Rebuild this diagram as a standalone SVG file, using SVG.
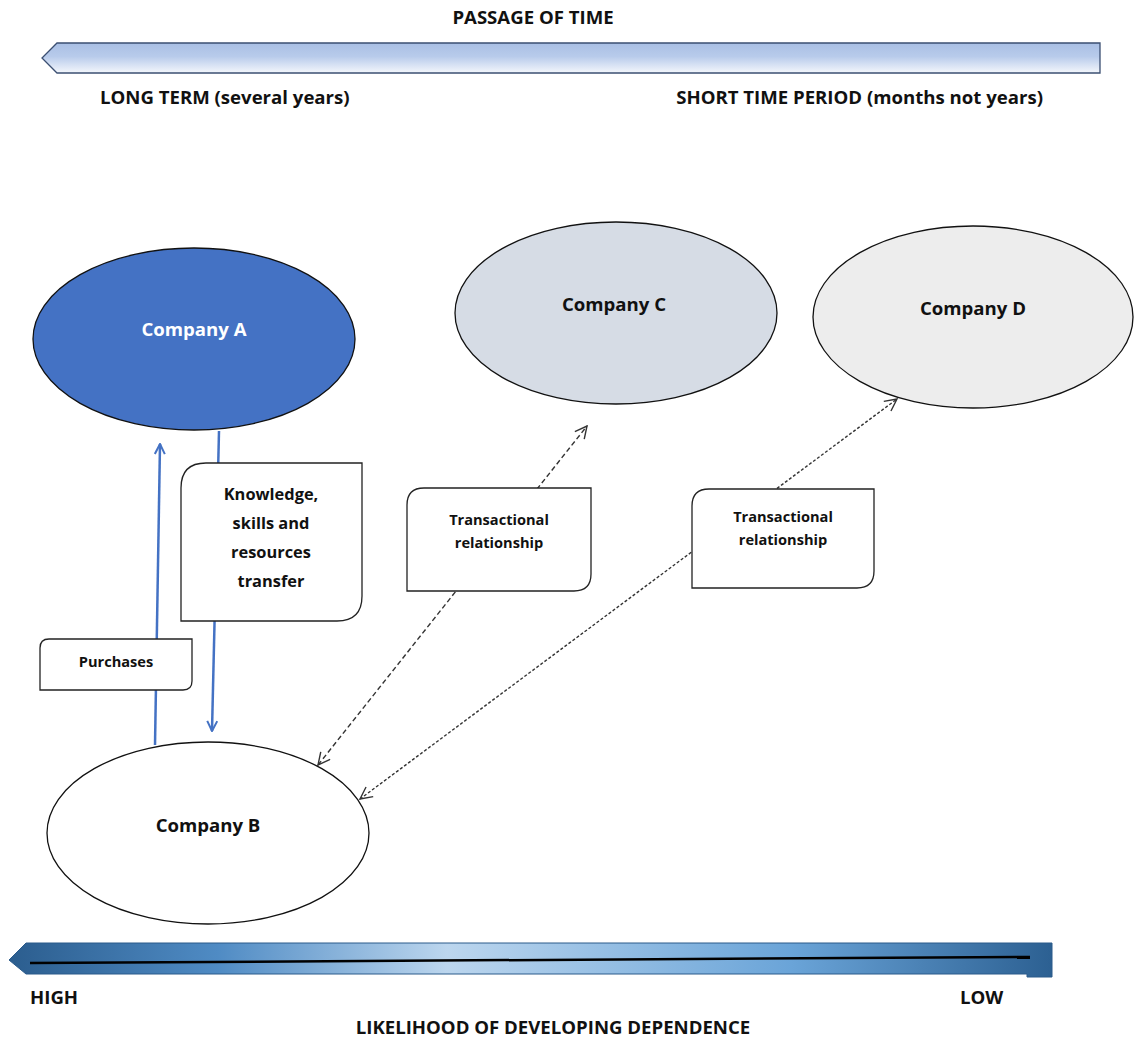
<svg xmlns="http://www.w3.org/2000/svg" width="1134" height="1041" viewBox="0 0 1134 1041">
  <defs>
    <linearGradient id="timeFill" x1="0" y1="0" x2="0" y2="1">
      <stop offset="0" stop-color="#a9bfe4"/>
      <stop offset="0.45" stop-color="#b8cbeb"/>
      <stop offset="1" stop-color="#f4f7fc"/>
    </linearGradient>
    <linearGradient id="depFill" x1="0" y1="0" x2="1" y2="0">
      <stop offset="0" stop-color="#2b5d8e"/>
      <stop offset="0.2" stop-color="#4f8bc4"/>
      <stop offset="0.42" stop-color="#bcd6ee"/>
      <stop offset="0.75" stop-color="#6aa4d8"/>
      <stop offset="1" stop-color="#2c6092"/>
    </linearGradient>
    <marker id="blueHead" viewBox="0 0 12 12" refX="11" refY="6" markerWidth="12" markerHeight="12" markerUnits="userSpaceOnUse" orient="auto">
      <path d="M1,1 L11,6 L1,11" fill="none" stroke="#4472c4" stroke-width="2"/>
    </marker>
    <marker id="openHead" viewBox="0 0 14 14" refX="13" refY="7" markerWidth="14" markerHeight="14" markerUnits="userSpaceOnUse" orient="auto-start-reverse">
      <path d="M1,1 L13,7 L1,13" fill="none" stroke="#333" stroke-width="1.4"/>
    </marker>
  </defs>
  <style>
    text { font-family: "Open Sans", "Liberation Sans", sans-serif; font-weight: bold; fill: #111; }
    .hdr { font-size: 18.6px; }
    .node-label { font-size: 18.6px; text-anchor: middle; }
    .node { stroke: #111; stroke-width: 1.3; }
    .box { fill: #fff; stroke: #222; stroke-width: 1.3; }
    .lbl { font-size: 16.4px; text-anchor: middle; }
    .small { font-size: 14.6px; text-anchor: middle; }
    .blue { stroke: #4472c4; stroke-width: 2.5; fill: none; }
    .dash { stroke: #333; stroke-width: 1.4; fill: none; }
  </style>

  <!-- time axis -->
  <g id="time-axis">
    <text class="hdr" x="533" y="24" text-anchor="middle">PASSAGE OF TIME</text>
    <path d="M57,43 L1100,43 L1100,73 L57,73 L42,58 Z" fill="url(#timeFill)" stroke="#3b4f72" stroke-width="1.3"/>
    <text class="hdr" x="100" y="104">LONG TERM (several years)</text>
    <text class="hdr" x="1043" y="104" text-anchor="end">SHORT TIME PERIOD (months not years)</text>
  </g>

  <!-- connectors -->
  <g id="connectors">
    <line class="blue" x1="155" y1="745" x2="160" y2="444" marker-end="url(#blueHead)"/>
    <line class="blue" x1="219" y1="431" x2="212" y2="731" marker-end="url(#blueHead)"/>
    <line class="dash" x1="318" y1="765" x2="587" y2="426" stroke-dasharray="5,3" marker-start="url(#openHead)" marker-end="url(#openHead)"/>
    <line class="dash" x1="360" y1="799" x2="897" y2="399" stroke-dasharray="3,2" marker-start="url(#openHead)" marker-end="url(#openHead)"/>
  </g>

  <g id="company-a">
    <ellipse class="node" cx="194" cy="339" rx="161" ry="91" fill="#4472c4"/>
    <text class="node-label" x="194" y="336" style="fill:#fff">Company A</text>
  </g>
  <g id="company-c">
    <ellipse class="node" cx="616" cy="313" rx="161" ry="91" fill="#d6dce5"/>
    <text class="node-label" x="614" y="311">Company C</text>
  </g>
  <g id="company-d">
    <ellipse class="node" cx="973" cy="317" rx="160" ry="91" fill="#ededed"/>
    <text class="node-label" x="973" y="315">Company D</text>
  </g>
  <g id="company-b">
    <ellipse class="node" cx="208" cy="833" rx="161" ry="91" fill="#ffffff"/>
    <text class="node-label" x="208" y="832">Company B</text>
  </g>

  <!-- labels on connectors -->
  <g id="label-knowledge">
    <path class="box" d="M206,463 L362,463 L362,596 Q362,621 337,621 L181,621 L181,488 Q181,463 206,463 Z"/>
    <text class="lbl" x="271" y="500">Knowledge,</text>
    <text class="lbl" x="271" y="529">skills and</text>
    <text class="lbl" x="271" y="558">resources</text>
    <text class="lbl" x="271" y="587">transfer</text>
  </g>
  <g id="label-purchases">
    <path class="box" d="M49,639 L192,639 L192,681 Q192,690 183,690 L40,690 L40,648 Q40,639 49,639 Z"/>
    <text class="small" x="116" y="667">Purchases</text>
  </g>
  <g id="label-transactional-c">
    <path class="box" d="M424,488 L591,488 L591,574 Q591,591 574,591 L407,591 L407,505 Q407,488 424,488 Z"/>
    <text class="small" x="499" y="525">Transactional</text>
    <text class="small" x="499" y="548">relationship</text>
  </g>
  <g id="label-transactional-d">
    <path class="box" d="M709,489 L874,489 L874,571 Q874,588 857,588 L692,588 L692,506 Q692,489 709,489 Z"/>
    <text class="small" x="783" y="522">Transactional</text>
    <text class="small" x="783" y="545">relationship</text>
  </g>

  <!-- dependence axis -->
  <g id="dependence-axis">
    <path d="M26,943 L1052,943 L1052,977 L1027,977 L1027,974 L26,974 L9,960 Z" fill="url(#depFill)" stroke="#2a5a8a" stroke-width="1"/>
    <line x1="30" y1="963" x2="1030" y2="957" stroke="#000" stroke-width="2.5"/>
    <text class="hdr" x="30" y="1004">HIGH</text>
    <text class="hdr" x="960" y="1004">LOW</text>
    <text class="hdr" x="553" y="1034" text-anchor="middle">LIKELIHOOD OF DEVELOPING DEPENDENCE</text>
  </g>
</svg>
